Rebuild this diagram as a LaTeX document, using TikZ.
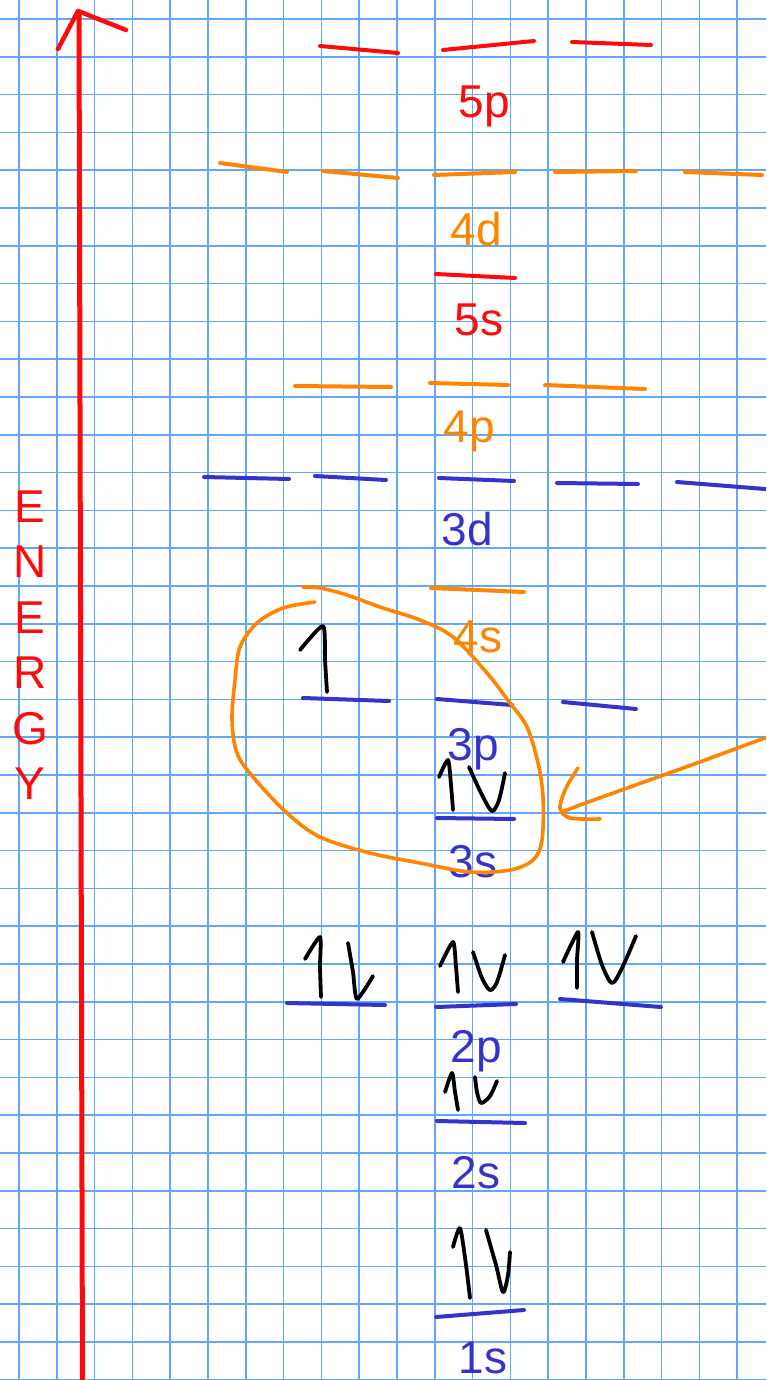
\documentclass[tikz,border=0pt]{standalone}
\usepackage{fontspec}
\setmainfont{Liberation Sans}
\definecolor{gridc}{RGB}{95,168,252}
\definecolor{redc}{RGB}{255,10,10}
\definecolor{orac}{RGB}{255,133,0}
\definecolor{bluc}{RGB}{52,52,204}
\begin{document}
\begin{tikzpicture}[x=1pt,y=-1pt,line cap=round,line join=round,
  gridline/.style={gridc,line width=1.7},
  lvl/.style={line width=4},
  ele/.style={black,line width=3.8},
  lab/.style={anchor=base,inner sep=0,font=\fontsize{46}{50}\selectfont},
  ring/.style={orac,line width=3.6}]
\useasboundingbox (0,0) rectangle (766,1380);
\fill[white] (0,0) rectangle (766,1380);
\begin{scope}
\clip (0,0) rectangle (766,1380);
% grid
\foreach \k in {0,...,19} \draw[gridline] ({19+37.8*\k},0) -- ({19+37.8*\k},1380);
\foreach \k in {0,...,36} \draw[gridline] (0,{19+37.8*\k}) -- (766,{19+37.8*\k});
% energy axis
\draw[redc,line width=5] (82.5,1385) -- (79,13);
\draw[redc,line width=4.5] (58,49) -- (78,11) -- (126,30);
% ENERGY
\foreach \l/\yy [count=\i] in {E/522,N/577.5,E/633,R/688.5,G/744,Y/799.5}
  \node[lab,redc] (energy\i) at (30,\yy) {\l};
% 5p
\draw[redc,lvl] (320,46) -- (398,53);
\draw[redc,lvl] (443,50) -- (534,41);
\draw[redc,lvl] (572,42) -- (651,45);
\node[lab,redc] (l5p) at (484,118) {5p};
% 4d
\draw[orac,lvl] (220,163) -- (287,172);
\draw[orac,lvl] (323,171) -- (398,178);
\draw[orac,lvl] (434,175) -- (515,172);
\draw[orac,lvl] (555,172) -- (636,171);
\draw[orac,lvl] (685,172) -- (762,175);
\node[lab,orac] (l4d) at (476,245) {4d};
% 5s
\draw[redc,lvl] (436,274) -- (515,278);
\node[lab,redc] (l5s) at (479,335) {5s};
% 4p
\draw[orac,lvl] (295,386) -- (391,387);
\draw[orac,lvl] (430,383) -- (508,385);
\draw[orac,lvl] (545,385) -- (645,389);
\node[lab,orac] (l4p) at (469,442) {4p};
% 3d
\draw[bluc,lvl] (204,477) -- (289,479);
\draw[bluc,lvl] (315,476) -- (386,480);
\draw[bluc,lvl] (439,478) -- (514,481);
\draw[bluc,lvl] (557,483) -- (638,484);
\draw[bluc,lvl] (677,482) -- (765,489);
\node[lab,bluc] (l3d) at (467,545) {3d};
% 4s
\draw[orac,lvl] (431,588) -- (524,592);
\node[lab,orac] (l4s) at (478,652) {4s};
% 3p
\draw[bluc,lvl] (303,698) -- (389,701);
\draw[bluc,lvl] (437,699) -- (512,705);
\draw[bluc,lvl] (563,702) -- (636,709);
\node[lab,bluc] (l3p) at (473,760) {3p};
\draw[ele] plot[smooth,tension=0.4] coordinates {(300,650) (323,626) (325,660) (327,692)};
% 3s
\draw[bluc,lvl] (437,818) -- (514,819);
\node[lab,bluc] (l3s) at (473,877) {3s};
\draw[ele] plot[smooth,tension=0.4] coordinates {(439,777) (448,760) (451,785) (453,810)};
\draw[ele] plot[smooth,tension=0.5] coordinates {(469,767) (482,795) (492,811) (499,800) (505,773)};
% 2p
\draw[bluc,lvl] (287,1003) -- (385,1005);
\draw[bluc,lvl] (436,1007) -- (516,1004);
\draw[bluc,lvl] (560,999) -- (661,1007);
\node[lab,bluc] (l2p) at (476,1062) {2p};
\draw[ele] plot[smooth,tension=0.4] coordinates {(305,959) (320,937) (320,967) (321,997)};
\draw[ele] plot[smooth,tension=0.4] coordinates {(348,943) (353,972) (357,999) (373,976)};
\draw[ele] plot[smooth,tension=0.4] coordinates {(440,966) (453,942) (456,967) (458,992)};
\draw[ele] plot[smooth,tension=0.5] coordinates {(473,952) (482,978) (490,990) (497,982) (505,955)};
\draw[ele] plot[smooth,tension=0.4] coordinates {(563,962) (578,932) (577,960) (577,988)};
\draw[ele] plot[smooth,tension=0.5] coordinates {(592,932) (602,965) (612,983) (622,968) (636,936)};
% 2s
\draw[bluc,lvl] (437,1121) -- (525,1123);
\node[lab,bluc] (l2s) at (476,1188) {2s};
\draw[ele] plot[smooth,tension=0.4] coordinates {(445,1092) (452,1073) (455,1092) (458,1110)};
\draw[ele] plot[smooth,tension=0.5] coordinates {(475,1077) (477,1092) (481,1103) (490,1096) (497,1081)};
% 1s
\draw[bluc,lvl] (436,1317) -- (524,1310);
\node[lab,bluc] (l1s) at (483,1373) {1s};
\draw[ele] plot[smooth,tension=0.4] coordinates {(453,1247) (460,1228) (466,1265) (470,1298)};
\draw[ele] plot[smooth,tension=0.5] coordinates {(486,1230) (496,1265) (503,1292) (508,1275) (510,1252)};
% ring
\draw[ring] plot[smooth,tension=0.55] coordinates {(315,602) (283,608) (257,623) (240,647) (235,680) (232,720) (237,753) (253,777) (287,813) (320,837) (370,853) (420,863) (470,872) (510,870) (533,860) (542,840) (543,797) (538,763) (527,727) (510,703) (487,673) (453,637) (420,620) (380,607) (347,595) (320,588) (303,587)};
% pointer arrow
\coordinate (ptrstart) at (770,736);
\draw[ring] plot[smooth,tension=0.5] coordinates {(ptrstart) (697,763) (630,787) (580,805) (562,812)};
\draw[ring] plot[smooth,tension=0.5] coordinates {(578,768) (566,788) (560,808) (570,818) (600,819)};
\end{scope}
\end{tikzpicture}
\end{document}
